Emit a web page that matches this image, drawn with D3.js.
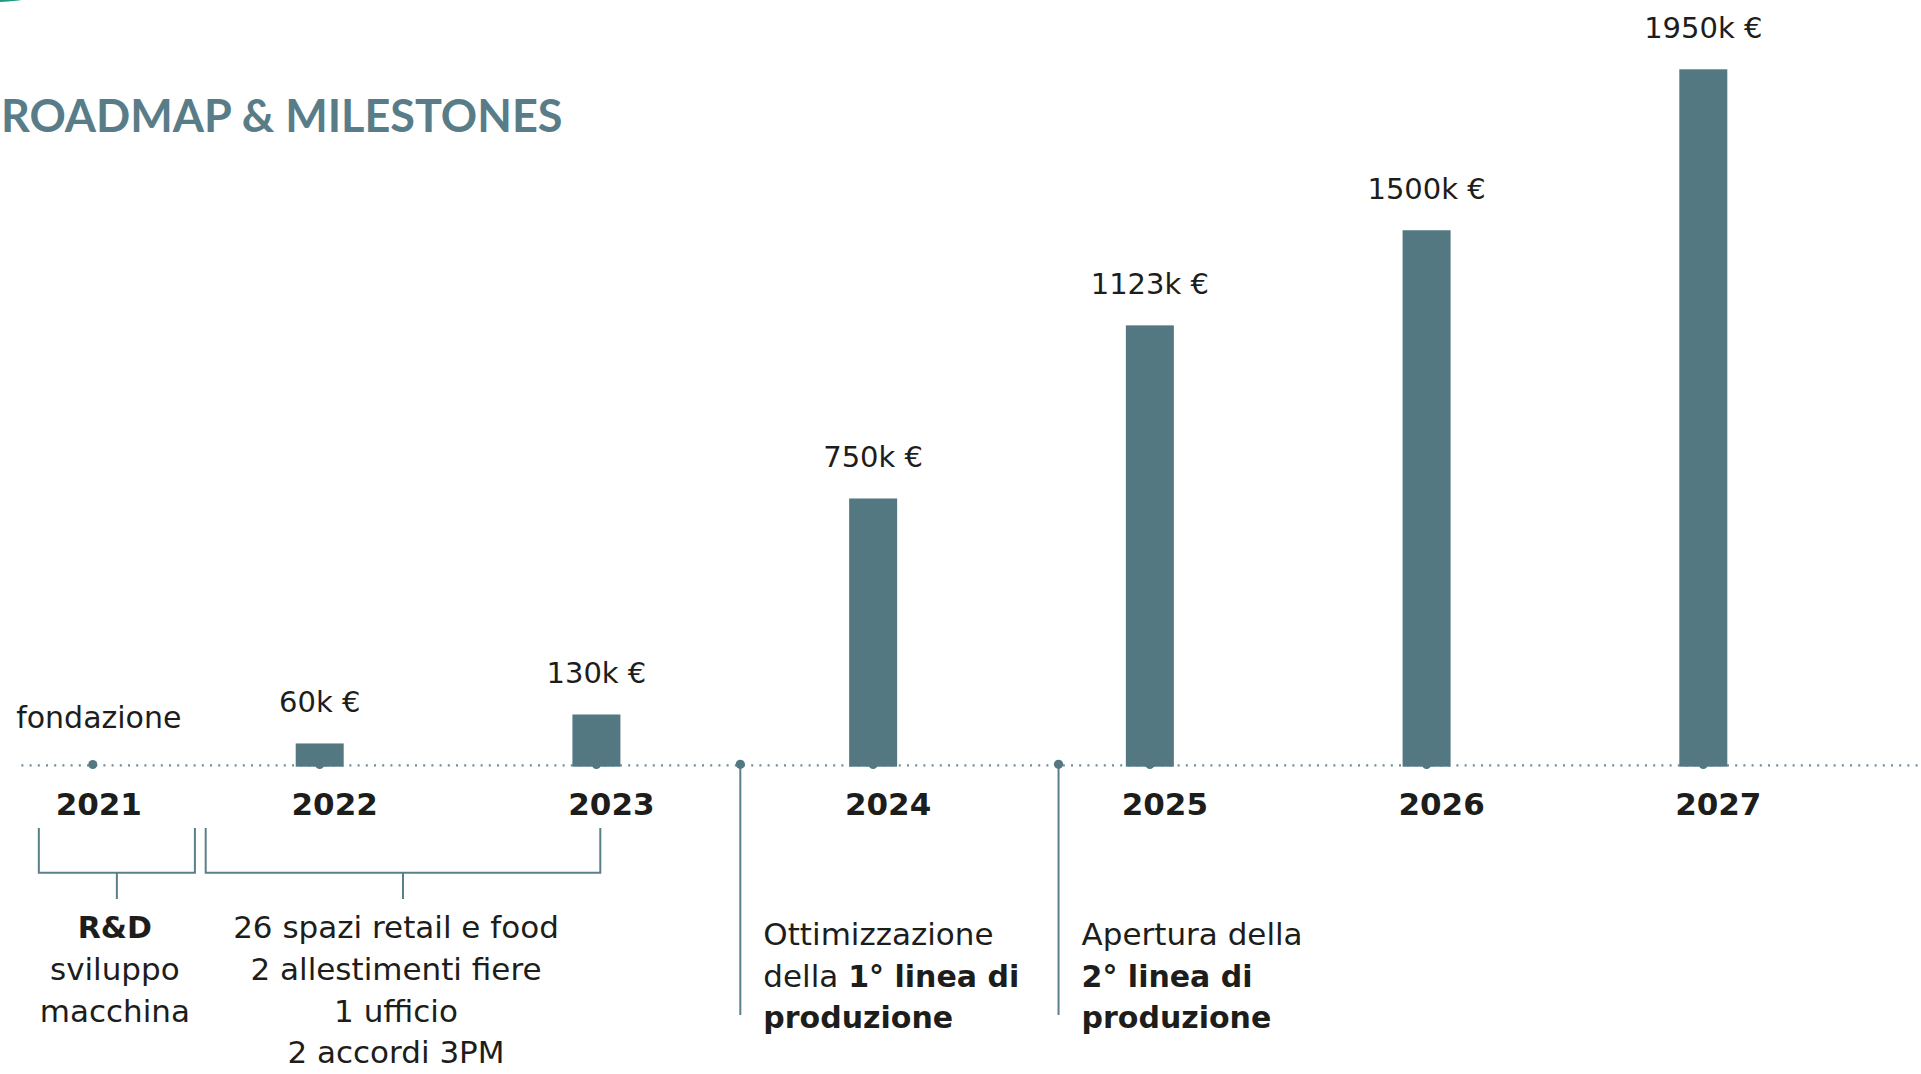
<!DOCTYPE html>
<html lang="it">
<head>
<meta charset="utf-8">
<title>Roadmap & Milestones</title>
<script src="https://cdn.jsdelivr.net/npm/d3@7"></script>
<style>
  html, body { margin: 0; padding: 0; background: #fff; overflow: hidden; }
  svg { display: block; font-family: "DejaVu Sans", sans-serif; }
  text { white-space: pre; }
</style>
</head>
<body>
<svg id="chart"></svg>
<script>
// revenue per year, k€ (bar heights as drawn on the slide, labels as printed)
const barYears = [2022, 2023, 2024, 2025, 2026, 2027];
const barValues = [65, 146, 750, 1234, 1500, 1950];
const barLabels = ["60k €", "130k €", "750k €", "1123k €", "1500k €", "1950k €"];

// years written under the timeline
const yearTicks = [2021, 2022, 2023, 2024, 2025, 2026, 2027];

// founding date (fraction of year)
const foundedAt = 2021.18;
const foundedLabel = "fondazione";

// phases grouped by brackets
const phaseStart = [2020.985, 2021.588];
const phaseEnd = [2021.549, 2023.014];
const phaseLines = [
  ["**R&D**", "sviluppo", "macchina"],
  ["26 spazi retail e food", "2 allestimenti fiere", "1 ufficio", "2 accordi 3PM"]
];

// production line milestones
const milestoneAt = [2023.52, 2024.67];
const milestoneLines = [
  ["Ottimizzazione", "della **1° linea di**", "**produzione**"],
  ["Apertura della", "**2° linea di**", "**produzione**"]
];

const W = 1921, H = 1074;
const barColor = "#537882";
const lineColor = "#5b7f89";
const ink = "#1d1d1b";

const svg = d3.select("#chart").attr("width", W).attr("height", H);

const x = d3.scaleLinear().domain([2022, 2027]).range([319.7, 1703.3]);
const y = d3.scaleLinear().domain([0, 1950]).range([766.7, 69.3]);
const baseY = 765.3;

// bit of the previous slide's shape peeking in at the corner
svg.append("ellipse")
  .attr("cx", -4).attr("cy", -14)
  .attr("rx", 52).attr("ry", 16)
  .attr("fill", "#1f9c84");

svg.append("text")
  .attr("x", 1).attr("y", 132)
  .attr("font-family", "Lato, sans-serif")
  .attr("font-weight", 700)
  .attr("font-size", 45)
  .attr("fill", "#587d88")
  .text("ROADMAP & MILESTONES");

// dotted timeline
svg.append("line")
  .attr("x1", 21.4).attr("x2", W)
  .attr("y1", baseY).attr("y2", baseY)
  .attr("stroke", "#6f9099")
  .attr("stroke-width", 2.2)
  .attr("stroke-dasharray", "2 6.2");

// dots under each bar and at founding
svg.selectAll(".ydot")
  .data(barYears.concat([foundedAt]))
  .enter()
  .append("circle")
  .attr("class", "ydot")
  .attr("cx", d => x(d))
  .attr("cy", 764.5)
  .attr("r", 4.5)
  .attr("fill", barColor);

svg.selectAll(".bar")
  .data(barYears)
  .enter()
  .append("rect")
  .attr("class", "bar")
  .attr("x", d => x(d) - 24)
  .attr("width", 48)
  .attr("y", (d, i) => y(barValues[i]))
  .attr("height", (d, i) => y(0) - y(barValues[i]))
  .attr("fill", barColor);

svg.selectAll(".vlabel")
  .data(barYears)
  .enter()
  .append("text")
  .attr("class", "vlabel")
  .attr("x", d => x(d))
  .attr("y", (d, i) => y(barValues[i]) - 31)
  .attr("text-anchor", "middle")
  .attr("font-size", 29)
  .attr("fill", ink)
  .text((d, i) => barLabels[i]);

svg.append("text")
  .attr("x", x(foundedAt) + 6)
  .attr("y", 728)
  .attr("text-anchor", "middle")
  .attr("font-size", 30)
  .attr("fill", ink)
  .text(foundedLabel);

svg.selectAll(".year")
  .data(yearTicks)
  .enter()
  .append("text")
  .attr("class", "year")
  .attr("x", d => d === 2021 ? x(foundedAt) + 6 : x(d) + 15)
  .attr("y", 815)
  .attr("text-anchor", "middle")
  .attr("font-size", 31)
  .attr("font-weight", 700)
  .attr("fill", ink)
  .text(d => d);

// text with **bold** parts
function richText(sel, str) {
  str.split("**").forEach((part, i) => {
    if (part) sel.append("tspan")
      .attr("font-weight", i % 2 ? 700 : 400)
      .attr("font-size", i % 2 ? 30 : 31)
      .text(part);
  });
}

// brackets under the years
phaseStart.forEach((s, i) => {
  const x0 = x(s), x1 = x(phaseEnd[i]), mid = (x0 + x1) / 2;
  svg.append("path")
    .attr("d", `M${x0},828V872.7H${x1}V828M${mid},872.7V899`)
    .attr("fill", "none")
    .attr("stroke", lineColor)
    .attr("stroke-width", 2);
  phaseLines[i].forEach((ln, j) => {
    const t = svg.append("text")
      .attr("x", mid - (i ? 7 : 2))
      .attr("y", 938.3 + j * 41.7)
      .attr("text-anchor", "middle")
      .attr("fill", ink);
    richText(t, ln);
  });
});

// milestone pins and notes
milestoneAt.forEach((m, i) => {
  const mx = x(m);
  svg.append("line")
    .attr("x1", mx).attr("x2", mx)
    .attr("y1", 764.5).attr("y2", 1015)
    .attr("stroke", lineColor)
    .attr("stroke-width", 2);
  svg.append("circle")
    .attr("cx", mx).attr("cy", 764.3)
    .attr("r", 4.6)
    .attr("fill", barColor);
  milestoneLines[i].forEach((ln, j) => {
    const t = svg.append("text")
      .attr("x", mx + 23)
      .attr("y", 945 + j * 41.5)
      .attr("fill", ink);
    richText(t, ln);
  });
});
</script>
</body>
</html>
